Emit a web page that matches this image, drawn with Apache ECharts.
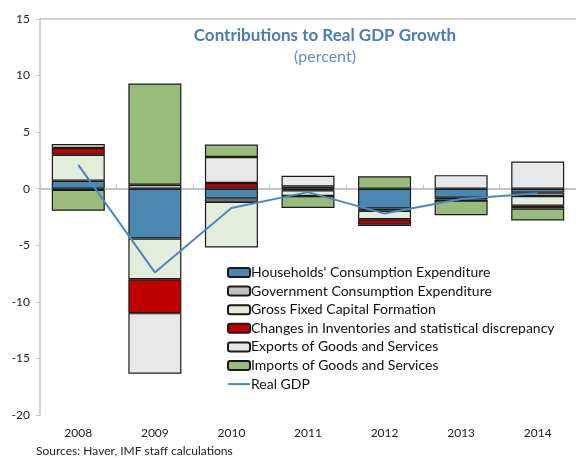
<!DOCTYPE html>
<html>
<head>
<meta charset="utf-8">
<script src="https://cdn.jsdelivr.net/npm/echarts@6/dist/echarts.min.js"></script>
<style>
  html, body { margin: 0; padding: 0; background: #fff; }
  #chart { width: 576px; height: 458px; }
</style>
</head>
<body>
<div id="chart"></div>
<script>
// Contributions to real GDP growth, percentage points
const years = ['2008', '2009', '2010', '2011', '2012', '2013', '2014'];
const households  = [0.7, -4.4, -0.85, -0.1, -1.75, -0.8, -0.35];
const government  = [-0.1, 0.35, -0.3, -0.05, -0.2, -0.15, -0.3];
const gfcf        = [2.3, -3.6, -4.05, -0.5, -0.75, -0.1, -0.85];
const inventories = [0.6, -3.0, 0.5, 0.2, -0.45, 0, -0.25];
const exportsGS   = [0.35, -5.35, 2.3, 0.95, -0.15, 1.2, 2.4];
const importsGS   = [-1.85, 8.95, 1.1, -1.05, 1.1, -1.3, -1.05];
const realGDP     = [2.1, -7.4, -1.7, -0.3, -2.2, -0.9, -0.4];
const yTicks = { min: -20, max: 15, step: 5 };

const FONT = 'Lato';
const chart = echarts.init(document.getElementById('chart'), null, { renderer: 'canvas' });

function barSeries(name, data, color) {
  return {
    name: name,
    type: 'bar',
    stack: 'contrib',
    xAxisIndex: 0,
    data: data,
    barWidth: 53,
    itemStyle: { color: color, borderColor: '#1a1a1a', borderWidth: 1.2 },
    emphasis: { disabled: true }
  };
}

chart.setOption({
  animation: false,
  backgroundColor: '#ffffff',
  textStyle: { fontFamily: FONT },
  title: [
    {
      text: 'Contributions to Real GDP Growth',
      left: 320, top: 22, textAlign: 'center',
      textStyle: { fontFamily: FONT, fontSize: 17, fontWeight: 'bold', color: '#4A7DB2' }
    },
    {
      text: '(percent)',
      left: 320, top: 44, textAlign: 'center',
      textStyle: { fontFamily: FONT, fontSize: 16, fontWeight: 'normal', color: '#5F92C4' }
    },
    {
      text: 'Sources: Haver, IMF staff calculations',
      left: 31, top: 440,
      textStyle: { fontFamily: FONT, fontSize: 12, fontWeight: 'normal', color: '#222' }
    }
  ],
  legend: {
    orient: 'vertical',
    left: 222, top: 260,
    itemWidth: 22, itemHeight: 9, itemGap: 3.6,
    textStyle: { fontFamily: FONT, fontSize: 14, color: '#111', lineHeight: 15, padding: [0, 0, 0, -4] },
    data: [
      'Households\' Consumption Expenditure',
      'Government Consumption Expenditure',
      'Gross Fixed Capital Formation',
      'Changes in Inventories and statistical discrepancy',
      'Exports of Goods and Services',
      'Imports of Goods and Services',
      { name: 'Real GDP', itemStyle: { opacity: 0 } }
    ]
  },
  grid: { left: 40, right: -15, top: 19, bottom: 43, containLabel: false },
  xAxis: [
    {
      type: 'category', data: years, position: 'bottom',
      axisLine: { show: false, onZero: false },
      axisTick: { show: false },
      axisLabel: { fontFamily: FONT, fontSize: 12, color: '#222', margin: 12 },
      splitLine: { show: false }
    },
    {
      type: 'category', data: years, position: 'bottom',
      axisLine: { show: true, onZero: true, lineStyle: { color: '#c4c4c4', width: 2 } },
      axisTick: { show: true, inside: true, length: 4, lineStyle: { color: '#c4c4c4', width: 1 } },
      axisLabel: { show: false },
      splitLine: { show: false }
    },
    {
      type: 'category', data: years, position: 'top',
      axisLine: { show: true, onZero: false, lineStyle: { color: '#c4c4c4', width: 1.5 } },
      axisTick: { show: false },
      axisLabel: { show: false }
    }
  ],
  yAxis: {
    type: 'value', min: yTicks.min, max: yTicks.max, interval: yTicks.step,
    axisLine: { show: true, lineStyle: { color: '#c4c4c4', width: 1.5 } },
    axisTick: { show: true, length: 4, lineStyle: { color: '#c4c4c4' } },
    axisLabel: { fontFamily: FONT, fontSize: 12, color: '#222', margin: 10 },
    splitLine: { show: false }
  },
  series: [
    barSeries('Households\' Consumption Expenditure', households, '#4A88B2'),
    barSeries('Government Consumption Expenditure', government, '#C0C0C0'),
    barSeries('Gross Fixed Capital Formation', gfcf, '#E4ECDB'),
    barSeries('Changes in Inventories and statistical discrepancy', inventories, '#C00000'),
    barSeries('Exports of Goods and Services', exportsGS, '#E8E8E8'),
    barSeries('Imports of Goods and Services', importsGS, '#99BC7D'),
    {
      name: 'Real GDP',
      type: 'line',
      xAxisIndex: 0,
      data: realGDP,
      symbol: 'none',
      lineStyle: { color: '#4A89C0', width: 2 },
      itemStyle: { color: '#4A89C0' },
      z: 5,
      emphasis: { disabled: true }
    }
  ]
});
</script>
</body>
</html>
